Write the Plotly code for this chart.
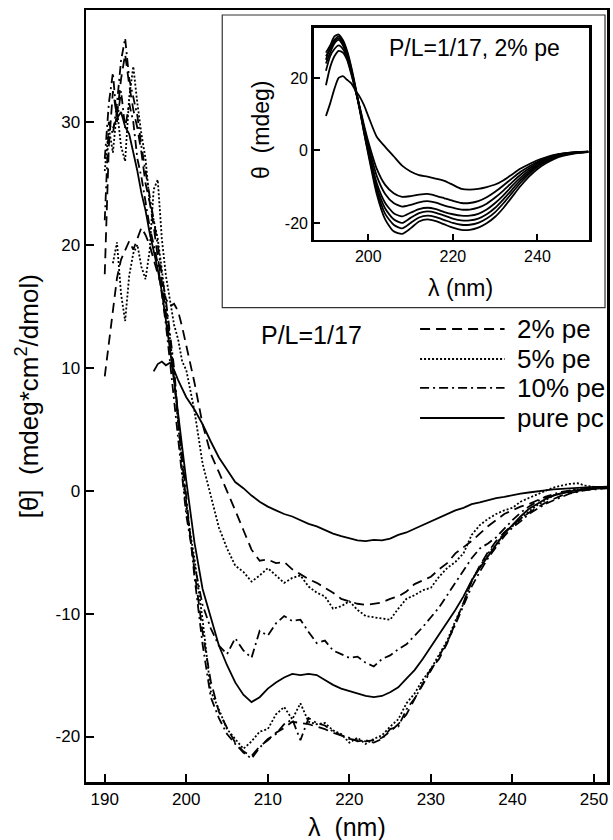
import plotly.graph_objects as go

# ---------------- main panel data ----------------
WL_FINE = [190.0, 190.5, 191.0, 191.5, 192.0, 192.5, 193.0, 193.5, 194.0, 194.5,
           195.0, 195.5, 196.0, 196.5, 197.0, 197.5, 198.0, 198.5, 199.0, 199.5]
WL_COARSE = list(range(200, 253))
WL = WL_FINE + WL_COARSE

pc_a = [None] * 12 + [9.7, 10.3, 10.5, 10.2, 10.4, 9.8, 9.0, 8.3] + [
    7.6, 6.6, 5.4, 4.0, 2.7, 1.7, 0.7, 0.2, -0.4, -0.9,
    -1.3, -1.6, -1.9, -2.1, -2.4, -2.7, -2.9, -3.2, -3.5, -3.7,
    -3.9, -4.05, -4.1, -4.0, -4.05, -3.9, -3.6, -3.4, -3.1, -2.8,
    -2.5, -2.2, -1.9, -1.6, -1.4, -1.1, -0.95, -0.75, -0.6, -0.5,
    -0.35, -0.25, -0.15, -0.05, 0.0, 0.1, 0.15, 0.2, 0.25, 0.25,
    0.3, 0.3, 0.35]

pc_b = [None, None, 29.5, 30.3, 30.8, 29.6, 29.0, 27.5, 26.0, 24.2,
        22.8, 21.0, 19.5, 18.0, 16.2, 14.0, 11.5, 9.0, 6.3, 3.3] + [
    0.8, -4.2, -8.0, -10.3, -12.6, -14.2, -15.6, -16.6, -17.2, -16.8,
    -16.1, -15.6, -15.2, -14.9, -15.0, -14.9, -15.0, -15.4, -15.8, -16.1,
    -16.3, -16.5, -16.7, -16.8, -16.7, -16.4, -16.0, -15.3, -14.6, -13.7,
    -12.7, -11.7, -10.8, -9.7, -8.6, -7.3, -6.3, -5.3, -4.4, -3.5,
    -2.8, -2.1, -1.5, -1.1, -0.7, -0.4, -0.2, -0.05, 0.05, 0.15,
    0.2, 0.25, 0.3]

pe2_a = [9.3, 12.0, 14.8, 17.3, 18.8, 19.5, 20.3, 19.6, 20.5, 21.4,
         20.8, 20.0, 18.8, 17.6, 16.5, 15.6, 15.0, 15.2, 14.6, 13.3] + [
    11.8, 8.8, 5.4, 3.0, 1.5, 0.0, -1.6, -3.2, -4.8, -5.7,
    -5.6, -5.9, -5.8, -6.4, -6.8, -7.2, -7.5, -7.9, -8.3, -8.8,
    -9.0, -9.2, -9.3, -9.2, -9.1, -8.8, -8.6, -8.2, -7.6, -7.3,
    -7.0, -6.4, -5.9, -5.1, -4.6, -4.1, -3.5, -2.9, -2.4, -1.9,
    -1.6, -1.3, -1.1, -0.8, -0.6, -0.4, -0.2, -0.1, 0.0, 0.1,
    0.15, 0.2, 0.2]

pe2_b = [17.6, 28.0, 32.5, 30.5, 33.5, 35.5, 33.0, 31.0, 29.5, 27.5,
         25.0, 23.5, 21.5, 19.0, 17.0, 14.5, 12.0, 9.0, 5.5, 2.0] + [
    -1.0, -6.5, -11.5, -15.5, -18.0, -19.3, -20.5, -21.2, -21.6, -20.8,
    -20.3, -19.7, -19.3, -18.8, -18.9, -19.0, -19.2, -19.4, -19.7, -19.9,
    -20.2, -20.3, -20.4, -20.3, -20.1, -19.6, -19.0, -18.2, -16.9, -15.7,
    -14.5, -13.7, -12.4, -10.8, -9.1, -7.4, -6.1, -5.0, -4.1, -3.4,
    -2.8, -2.3, -1.8, -1.4, -1.0, -0.7, -0.4, -0.2, -0.05, 0.05,
    0.15, 0.2, 0.25]

pe5_a = [None, None, 18.5, 20.2, 16.0, 13.8, 17.5, 19.3, 20.0, 18.2,
         17.2, 19.5, 24.5, 25.3, 20.5, 17.5, 15.5, 13.5, 12.3, 10.5] + [
    9.8, 6.5, 2.2, -0.5, -3.0, -4.7, -6.1, -6.6, -7.4, -6.9,
    -6.3, -6.9, -7.5, -7.1, -6.9, -7.8, -8.3, -8.6, -9.6, -9.4,
    -9.0, -9.7, -10.2, -10.3, -10.4, -10.5, -9.6, -8.8, -8.5, -8.1,
    -7.9, -7.0, -6.3, -5.8, -5.1, -3.6, -2.8, -2.3, -1.9, -1.6,
    -1.4, -0.9, -0.6, -0.3, 0.0, 0.25, 0.4, 0.55, 0.6, 0.4,
    0.3, 0.25, 0.3]

pe5_b = [26.0, 29.5, 27.5, 31.0, 28.0, 26.8, 32.0, 34.5, 31.5, 29.0,
         27.0, 23.5, 22.0, 20.5, 18.0, 15.0, 12.5, 9.5, 5.5, 1.5] + [
    -1.5, -5.5, -10.5, -16.3, -17.8, -19.4, -20.2, -21.0, -20.4, -19.6,
    -19.4, -18.2, -17.6, -18.6, -17.3, -18.8, -19.0, -18.9, -19.5, -19.8,
    -20.5, -20.1, -20.6, -20.2, -19.9, -19.2, -18.6, -17.3, -16.5, -15.4,
    -14.5, -13.3, -12.2, -10.6, -9.2, -7.3, -6.2, -5.1, -4.4, -3.4,
    -2.9, -2.3, -1.7, -1.2, -0.8, -0.4, -0.2, 0.0, 0.1, 0.15,
    0.2, 0.25, 0.3]

pe10_a = [27.0, 31.5, 34.0, 30.0, 32.5, 29.5, 31.5, 30.0, 27.0, 25.5,
          23.5, 21.5, 20.0, 18.5, 16.0, 13.5, 10.5, 7.5, 4.2, 1.0] + [
    -2.0, -6.0, -9.3, -11.2, -12.6, -13.3, -12.0, -13.0, -13.6, -11.4,
    -11.8, -10.8, -10.2, -10.6, -10.5, -11.5, -12.4, -12.2, -13.0, -13.3,
    -13.6, -13.5, -14.0, -14.3, -13.7, -13.4, -12.9, -12.5, -11.8, -11.1,
    -10.3, -9.5, -8.5, -7.5, -6.6, -5.5, -4.7, -4.3, -3.8, -3.1,
    -2.4, -1.8, -1.3, -0.9, -0.5, -0.3, -0.1, 0.0, 0.1, 0.15,
    0.2, 0.2, 0.3]

pe10_b = [22.0, 30.0, 29.0, 31.5, 35.0, 36.8, 33.5, 32.0, 30.5, 28.0,
          26.0, 24.0, 22.0, 20.0, 17.5, 15.5, 12.8, 10.0, 6.0, 2.5] + [
    -0.5, -7.0, -12.5, -16.8, -18.5, -19.8, -20.6, -21.3, -21.8, -20.9,
    -20.2, -19.8, -19.0, -18.6, -20.3, -18.5, -18.9, -19.1, -19.6, -19.9,
    -20.1, -20.4, -20.3, -20.5, -20.2, -19.4, -19.2, -17.8, -16.9, -15.8,
    -14.6, -13.5, -12.3, -10.9, -9.4, -7.8, -6.6, -5.5, -4.6, -3.7,
    -3.0, -2.5, -1.9, -1.5, -1.1, -0.8, -0.5, -0.25, -0.1, 0.05,
    0.1, 0.15, 0.2]

MAIN_X_TICKS = [190, 200, 210, 220, 230, 240, 250]
MAIN_Y_TICKS = [-20, -10, 0, 10, 20, 30]
MAIN_Y_TICKTEXT = ["-20", "-10", "0", "10", "20", "30"]

# ---------------- inset data (P/L=1/17, 2% pe) ----------------
IN_WL = [190, 191, 192, 193, 194, 195, 196, 197, 198, 199, 200] + list(range(202, 253, 2))

in_c1 = [9.5, 13, 17, 20, 20.5, 19.5, 18.5, 16.5, 14.8, 12.5, 9.5] + [
    3.8, 1.0, -1.6, -4.2, -5.8, -6.8, -7.2, -7.8, -8.4, -9.5,
    -10.6, -10.8, -10.6, -10.1, -9.4, -8.2, -6.6, -5.0, -3.8, -2.7,
    -1.9, -1.2, -0.8, -0.5, -0.4, -0.3]
in_c2 = [18, 23, 26, 27.5, 27, 25, 21, 16.5, 12, 7, 2.5] + [
    -5, -9.5, -11.8, -12.8, -12.6, -12.2, -12.0, -12.5, -13.2, -13.9,
    -14.5, -14.5, -14.0, -12.9, -11.4, -9.6, -7.7, -5.9, -4.4, -3.1,
    -2.1, -1.4, -0.9, -0.6, -0.4, -0.3]
in_c3 = [22, 26, 28, 29, 28, 25.5, 21.5, 16.5, 11.5, 6.5, 1.5] + [
    -7, -12, -14.5, -15.5, -15.0, -14.3, -14.0, -14.4, -15.2, -15.8,
    -16.3, -16.3, -15.8, -14.7, -13.0, -11.0, -8.8, -6.7, -5.0, -3.5,
    -2.4, -1.6, -1.0, -0.7, -0.5, -0.35]
in_c4 = [24, 27, 29.5, 30.5, 29, 26, 22, 17, 11.5, 6, 0.5] + [
    -9, -14.5, -17.3, -18.2, -17.2, -16.2, -15.8, -16.2, -17.0, -17.6,
    -18.0, -18.0, -17.5, -16.3, -14.5, -12.3, -9.8, -7.5, -5.5, -3.9,
    -2.7, -1.8, -1.1, -0.7, -0.5, -0.35]
in_c5 = [26, 28, 30, 31, 29.5, 26.5, 22, 17, 11.5, 5.5, 0] + [
    -10, -16, -19, -20, -18.6, -17.3, -16.8, -17.2, -18.0, -18.8,
    -19.3, -19.3, -18.8, -17.6, -15.8, -13.4, -10.8, -8.2, -6.0, -4.2,
    -2.9, -1.9, -1.2, -0.8, -0.55, -0.4]
in_c6 = [25, 28.5, 30.5, 31.5, 30, 27, 22.5, 17, 11, 5, -0.5] + [
    -11, -17.5, -20.5, -21.5, -20, -18.5, -18.0, -18.4, -19.2, -20.0,
    -20.5, -20.5, -20.0, -18.8, -17.0, -14.5, -11.7, -8.9, -6.5, -4.6,
    -3.1, -2.0, -1.3, -0.85, -0.55, -0.4]
in_c7 = [27, 29, 31.5, 32, 30.5, 27.5, 23, 17.5, 11.5, 5, -1] + [
    -12, -19, -22.3, -23, -21.5, -19.6, -19.0, -19.5, -20.4, -21.3,
    -21.9, -21.9, -21.3, -20.1, -18.3, -15.8, -12.8, -9.8, -7.2, -5.1,
    -3.5, -2.3, -1.5, -1.0, -0.65, -0.45]

IN_X_TICKS = [200, 220, 240]
IN_Y_TICKS = [-20, 0, 20]
IN_Y_TICKTEXT = ["-20", "0", "20"]

LEGEND_LABELS = ["2% pe", "5% pe", "10% pe", "pure pc"]

# ---------------- styles ----------------
FONT = "Liberation Sans, Arial, Helvetica, sans-serif"
DASH = "10px,6px"
DOT = "2px,2px"
DASHDOT = "9px,4px,2px,4px"

fig = go.Figure()

main_series = [
    (pe2_a, DASH), (pe2_b, DASH),
    (pe5_a, DOT), (pe5_b, DOT),
    (pe10_a, DASHDOT), (pe10_b, DASHDOT),
    (pc_a, "solid"), (pc_b, "solid"),
]
for ys, dash in main_series:
    fig.add_trace(go.Scatter(
        x=WL, y=ys, mode="lines", connectgaps=False, showlegend=False,
        line=dict(color="black", width=1.8, dash=dash),
        xaxis="x", yaxis="y", hoverinfo="skip"))

for ys in [in_c1, in_c2, in_c3, in_c4, in_c5, in_c6, in_c7]:
    fig.add_trace(go.Scatter(
        x=IN_WL, y=ys, mode="lines", showlegend=False,
        line=dict(color="black", width=1.8, shape="spline", smoothing=0.6),
        xaxis="x2", yaxis="y2", hoverinfo="skip"))

axis_common = dict(showgrid=False, zeroline=False, showline=True, linecolor="black",
                   linewidth=2.5, mirror=True, ticks="inside", tickcolor="black",
                   tickwidth=2, color="black")

fig.update_layout(
    width=613, height=840,
    margin=dict(l=86, r=3, t=10, b=58),
    paper_bgcolor="white", plot_bgcolor="rgba(0,0,0,0)",
    font=dict(family=FONT, color="black"),
    showlegend=False,
    xaxis=dict(domain=[0, 1], range=[187.7, 251.6], tickvals=MAIN_X_TICKS,
               ticklen=8, tickfont=dict(size=17), **axis_common),
    yaxis=dict(domain=[0, 1], range=[-23.7, 39.1], tickvals=MAIN_Y_TICKS,
               ticktext=MAIN_Y_TICKTEXT, ticklen=8, tickfont=dict(size=17),
               **axis_common),
    xaxis2=dict(domain=[0.437, 0.9656], anchor="y2", range=[187.1, 252.2],
                tickvals=IN_X_TICKS, ticklen=6, tickfont=dict(size=16), **axis_common),
    yaxis2=dict(domain=[0.7021, 0.9767], anchor="x2", range=[-24.7, 33.8],
                tickvals=IN_Y_TICKS, ticktext=IN_Y_TICKTEXT, ticklen=6,
                tickfont=dict(size=16), **axis_common),
)

shapes = [
    # inset outer frame
    dict(type="rect", xref="paper", yref="paper", x0=0.2615, x1=0.9962, y0=0.6145, y1=0.9935,
         line=dict(color="#333333", width=1.2), fillcolor="rgba(0,0,0,0)", layer="above"),
]
leg_y = [0.5868, 0.5479, 0.5104, 0.4715]
leg_dash = [DASH, DOT, DASHDOT, "solid"]
for yy, dd in zip(leg_y, leg_dash):
    shapes.append(dict(type="line", xref="paper", yref="paper", x0=0.6412, x1=0.8034,
                       y0=yy, y1=yy, line=dict(color="black", width=1.8, dash=dd)))
fig.update_layout(shapes=shapes)

ann = [
    dict(text="[θ]&nbsp;&nbsp;(mdeg*cm<sup>2</sup>/dmol)", x=-0.1126, y=0.5, textangle=-90,
         font=dict(size=26)),
    dict(text="λ&nbsp;&nbsp;(nm)", x=0.5, y=-0.0583, font=dict(size=25)),
    dict(text="θ&nbsp;&nbsp;(mdeg)", x=0.3359, y=0.8446, textangle=-90, font=dict(size=23)),
    dict(text="λ (nm)", x=0.718, y=0.6395, font=dict(size=23)),
    dict(text="P/L=1/17, 2% pe", x=0.746, y=0.9508, font=dict(size=23)),
    dict(text="P/L=1/17", x=0.4323, y=0.579, font=dict(size=25)),
]
for yy, lab in zip(leg_y, LEGEND_LABELS):
    ann.append(dict(text=lab, x=0.8225, y=yy, xanchor="left", font=dict(size=26)))
for a in ann:
    a.setdefault("xanchor", "center")
    a.update(xref="paper", yref="paper", yanchor="middle", showarrow=False)
fig.update_layout(annotations=ann)

fig.write_html(
    "out.html",
    config={"displayModeBar": False, "staticPlot": True},
    post_script="document.body.style.margin='0';document.body.style.overflow='hidden';",
)
